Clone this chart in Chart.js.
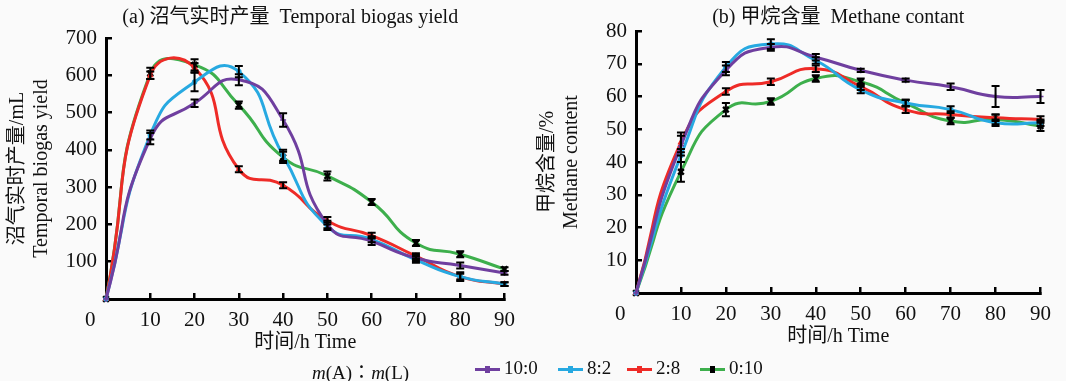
<!DOCTYPE html>
<html>
<head>
<meta charset="utf-8">
<script src="https://cdn.jsdelivr.net/npm/chart.js@4/dist/chart.umd.min.js"></script>
<style>
  body { margin: 0; background: #fafafa; }
  #wrap { position: relative; width: 1066px; height: 381px; background: #fafafa; font-family: 'Liberation Serif', 'Noto Sans CJK SC', serif; }
  canvas { position: absolute; top: 0; }
  #graphA { left: 0; }
  #graphB { left: 530px; }
  #legend { position: absolute; top: 357px; left: 0; width: 1066px; height: 24px; font-size: 19px; color: #111; }
  #legend .lbl { position: absolute; left: 312px; top: 0; }
  #legend .item { position: absolute; top: 0; white-space: nowrap; }
  #legend .line { display: inline-block; width: 25px; height: 3px; vertical-align: middle; margin-right: 4px; position: relative; }
  #legend .mk { position: absolute; left: 10px; top: -2px; width: 5px; height: 7px; }
</style>
</head>
<body>
<div id="wrap">
  <canvas id="graphA" width="530" height="360"></canvas>
  <canvas id="graphB" width="536" height="354"></canvas>
  <div id="legend">
    <span class="lbl"><i>m</i>(A)∶<i>m</i>(L)</span>
  </div>
</div>
<script>
const hours = [0, 10, 20, 30, 40, 50, 60, 70, 80, 90];
const seriesNames = ['10:0', '8:2', '2:8', '0:10'];
const seriesColors = ['#6f3f9f', '#27a9e1', '#ee2b27', '#3daf4c'];

// (a) temporal biogas yield, mL
const biogas10_0 = [0, 430, 525, 588, 480, 200, 155, 110, 90, 70];
const biogas8_2 = [0, 440, 582, 610, 385, 195, 160, 105, 60, 40];
const biogas2_8 = [0, 600, 620, 348, 305, 210, 170, 115, 60, 40];
const biogas0_10 = [0, 605, 628, 520, 380, 330, 260, 150, 120, 80];
const biogasErr10_0 = [0, 15, 10, 15, 18, 10, 10, 8, 8, 5];
const biogasErr8_2 = [0, 12, 25, 15, 15, 10, 8, 8, 12, 5];
const biogasErr2_8 = [0, 10, 12, 8, 8, 10, 8, 8, 8, 5];
const biogasErr0_10 = [0, 15, 15, 10, 15, 12, 8, 8, 8, 5];

// (b) methane content, %
const methane10_0 = [0, 45, 68, 75, 72, 68, 65, 63, 60, 60];
const methane8_2 = [0, 42, 69, 76, 71, 62, 58, 56, 52, 52];
const methane2_8 = [0, 46, 61.5, 64.5, 68.5, 63, 56, 54.5, 53.5, 53];
const methane0_10 = [0, 37, 56, 58.5, 65.5, 64.5, 58, 52.5, 53, 51];
const methaneErr10_0 = [0, 3, 1.5, 1, 1, 0.5, 0.5, 1, 3.2, 2];
const methaneErr8_2 = [0, 2, 1.5, 1.5, 1, 1, 1, 1, 1, 1];
const methaneErr2_8 = [0, 3, 1, 1, 1, 1, 1, 1, 1, 1];
const methaneErr0_10 = [0, 3, 2, 1, 1, 1, 1, 1, 1.5, 1.5];

const serif = "'Liberation Serif', 'Noto Sans CJK SC', serif";
const pointStyles = ['cross', 'circle', 'triangle', 'crossRot'];
const pointColors = ['#6f3f9f', '#27a9e1', '#ee2b27', '#000'];
const pointRadius = [3, 2, 2.5, 4];

const errorBars = {
    id: 'errorBars',
    afterDatasetsDraw(chart) {
        const { ctx, scales: { x, y } } = chart;
        ctx.save();
        ctx.strokeStyle = '#000';
        ctx.lineWidth = 2;
        chart.data.datasets.forEach(ds => {
            ds.errors.forEach((e, j) => {
                if (!e) return;
                const px = x.getPixelForValue(ds.data[j].x);
                const top = y.getPixelForValue(ds.data[j].y + e);
                const bot = y.getPixelForValue(ds.data[j].y - e);
                ctx.beginPath();
                ctx.moveTo(px, top); ctx.lineTo(px, bot);
                ctx.moveTo(px - 4, top); ctx.lineTo(px + 4, top);
                ctx.moveTo(px - 4, bot); ctx.lineTo(px + 4, bot);
                ctx.stroke();
            });
        });
        ctx.restore();
    }
};

function makeDatasets(values, errors) {
    return values.map((vals, i) => ({
        label: seriesNames[i],
        data: hours.map((h, k) => ({ x: h, y: vals[k] })),
        errors: errors[i],
        borderColor: seriesColors[i],
        backgroundColor: pointColors[i],
        pointBorderColor: pointColors[i],
        pointStyle: pointStyles[i],
        pointRadius: pointRadius[i],
        pointBorderWidth: i === 3 ? 2.5 : 1.5,
        borderWidth: 3,
        tension: 0.55,
        clip: false
    }));
}

function makeChart(el, opts) {
    return new Chart(el, {
        type: 'line',
        data: { datasets: makeDatasets(opts.values, opts.errors) },
        plugins: [errorBars],
        options: {
            responsive: false,
            animation: false,
            layout: { padding: { left: 0, right: opts.padRight, top: 0, bottom: 0 } },
            plugins: {
                legend: { display: false },
                tooltip: { enabled: false },
                title: {
                    display: true,
                    fullSize: false,
                    text: opts.title,
                    color: '#111',
                    font: { family: serif, size: 20, weight: 'normal' },
                    padding: { top: 6, bottom: opts.titleGap }
                }
            },
            scales: {
                x: {
                    type: 'linear',
                    min: 0,
                    max: 90,
                    afterFit: s => { s.height = 61; },
                    border: { color: '#000', width: 3 },
                    grid: { drawOnChartArea: false, tickLength: -6, color: '#000', lineWidth: 2.5 },
                    ticks: {
                        stepSize: 10,
                        autoSkip: false,
                        padding: 15,
                        maxRotation: 0,
                        color: '#111',
                        font: { family: serif, size: 21 },
                        callback: v => v === 0 ? '0      ' : String(v)
                    },
                    title: {
                        display: true,
                        text: '时间/h Time',
                        color: '#111',
                        font: { family: serif, size: 20 },
                        padding: { top: 0, bottom: 5 }
                    }
                },
                y: {
                    min: 0,
                    max: opts.yMax,
                    afterFit: s => { s.width = 106; },
                    border: { color: '#000', width: 3 },
                    grid: { drawOnChartArea: false, tickLength: -6, color: '#000', lineWidth: 2.5 },
                    ticks: {
                        stepSize: opts.yStep,
                        autoSkip: false,
                        padding: 15,
                        color: '#111',
                        font: { family: serif, size: 21 },
                        callback: v => v === 0 ? '' : String(v)
                    },
                    title: {
                        display: true,
                        text: opts.yTitle,
                        color: '#111',
                        font: { family: serif, size: 20 },
                        padding: { top: 6, bottom: 0 }
                    }
                }
            }
        }
    });
}

makeChart(document.querySelector('#graphA'), {
    title: '(a) 沼气实时产量  Temporal biogas yield      ',
    yTitle: ['沼气实时产量/mL', 'Temporal biogas yield'],
    yMax: 700,
    yStep: 100,
    padRight: 9,
    titleGap: 8,
    values: [biogas10_0, biogas8_2, biogas2_8, biogas0_10],
    errors: [biogasErr10_0, biogasErr8_2, biogasErr2_8, biogasErr0_10]
});

makeChart(document.querySelector('#graphB'), {
    title: '(b) 甲烷含量  Methane contant',
    yTitle: ['甲烷含量/%', 'Methane content'],
    yMax: 80,
    yStep: 10,
    padRight: 7,
    titleGap: 1,
    values: [methane10_0, methane8_2, methane2_8, methane0_10],
    errors: [methaneErr10_0, methaneErr8_2, methaneErr2_8, methaneErr0_10]
});

// shared legend
const legendEl = document.querySelector('#legend');
const legendX = [475, 558, 627, 700];
seriesNames.forEach((name, i) => {
    const item = document.createElement('span');
    item.className = 'item';
    item.style.left = legendX[i] + 'px';
    const line = document.createElement('span');
    line.className = 'line';
    line.style.background = seriesColors[i];
    const mk = document.createElement('span');
    mk.className = 'mk';
    mk.style.background = pointColors[i];
    line.appendChild(mk);
    item.appendChild(line);
    item.appendChild(document.createTextNode(name));
    legendEl.appendChild(item);
});
</script>
</body>
</html>
